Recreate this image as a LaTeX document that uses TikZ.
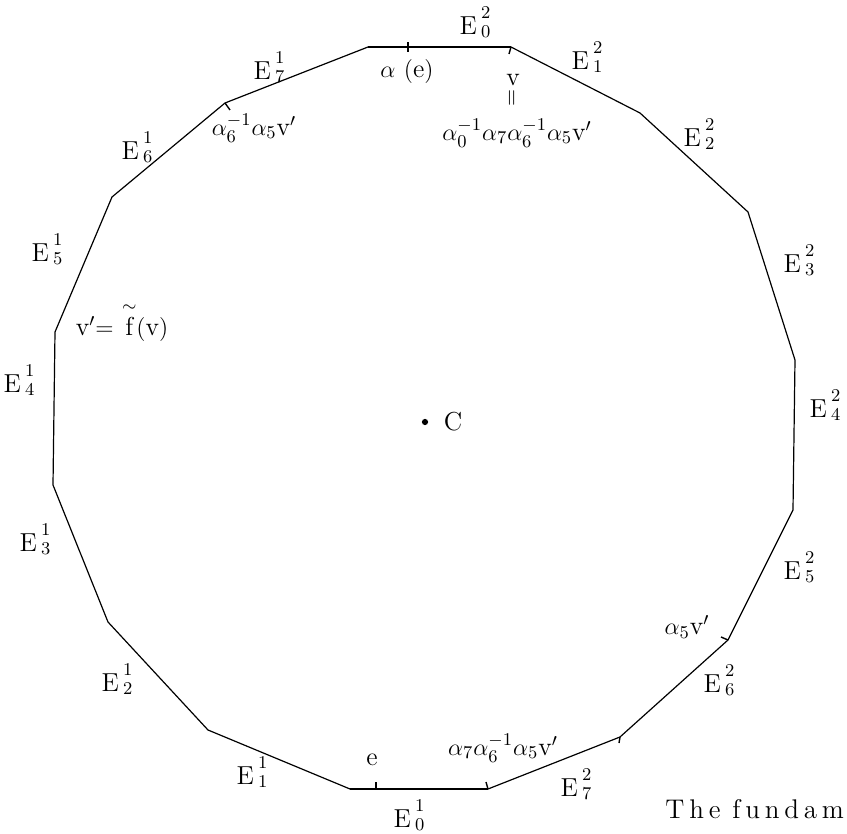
\documentclass[tikz,border=0pt]{standalone}
\usepackage{fontspec}
\usepackage{amsmath}
\newcommand{\Edge}[2]{\mbox{E\hspace{2pt}\raisebox{-1.5pt}{\makebox[0pt][l]{\raisebox{9.5pt}{\fontsize{9}{9}\selectfont #2}}\fontsize{9}{9}\selectfont #1}\hspace{5pt}}}
\begin{document}
\begin{tikzpicture}[x=0.5pt,y=-0.5pt,
  every node/.style={font=\fontsize{13}{15}\selectfont,inner sep=1pt},
  side/.style={line width=0.6pt},
  notch/.style={line width=0.7pt},
  dot/.style={circle,fill,inner sep=1.1pt}]
\useasboundingbox (0,0) rectangle (847,834);
\foreach \x/\y [count=\i from 0] in {368/47,511/47,640/113,748/212,795/360,793/510,
  728/640,620/737,488/789,350/789,208/730,108/622,53/485,55/332,112/197,225/103}
  \coordinate (p\i) at (\x,\y);
\draw[side] (p0) \foreach \i in {1,...,15} {-- (p\i)} -- cycle;
\draw[line width=0.9pt] (p0) -- (p1);
\draw[line width=0.9pt] (p8) -- (p9);
\coordinate (ae) at (408,47);
\coordinate (ee) at (376,789);
\draw[notch] (ae) -- ++(0,-5) (ae) -- ++(0,5);
\draw[notch] (ee) -- ++(0,-7);
\draw[notch] (p1) -- ++(-2,7);
\draw[notch] (p15) -- ++(5,7);
\draw[notch] (p6) -- ++(-7,-3);
\draw[notch] (p7) -- ++(-1,6);
\draw[notch] (p8) -- ++(-2,-7);
\node[dot] (cdot) at (425,422) {};
\node (c) at (453,422) {C};
% labels on the second copy
\node (e02) at (480,22) {\Edge{0}{2}};
\node (e12) at (592,57) {\Edge{1}{2}};
\node (e22) at (704,134) {\Edge{2}{2}};
\node (e32) at (804,260) {\Edge{3}{2}};
\node (e42) at (830,405) {\Edge{4}{2}};
\node (e52) at (804,567) {\Edge{5}{2}};
\node (e62) at (724,680) {\Edge{6}{2}};
\node (e72) at (581,784) {\Edge{7}{2}};
% labels on the first copy
\node (e01) at (414,815) {\Edge{0}{1}};
\node (e11) at (257,772) {\Edge{1}{1}};
\node (e21) at (122,679) {\Edge{2}{1}};
\node (e31) at (40,539) {\Edge{3}{1}};
\node (e41) at (24,380) {\Edge{4}{1}};
\node (e51) at (52,249) {\Edge{5}{1}};
\node (e61) at (142,147) {\Edge{6}{1}};
\node (e71) at (274,67) {\Edge{7}{1}};
% points
\node (ale) at (407,72) {$\alpha\ (\mathrm{e})$};
\node (v) at (513,80) {$\mathrm{v}$};
\node[rotate=90,font=\fontsize{11}{12}\selectfont] (veq) at (513,98) {$=$};
\node (vimg) at (517,133) {$\alpha_0^{-1}\alpha_7\alpha_6^{-1}\alpha_5\mathrm{v}'$};
\node (a6) at (254,128) {$\alpha_6^{-1}\alpha_5\mathrm{v}'$};
\node (vp) at (122,322) {$\mathrm{v}'{=}\ \overset{\sim}{\mathrm{f}}(\mathrm{v})$};
\node (a5) at (687,627) {$\alpha_5\mathrm{v}'$};
\node (a7) at (503,748) {$\alpha_7\alpha_6^{-1}\alpha_5\mathrm{v}'$};
\node (e) at (372,760) {$\mathrm{e}$};
\node[anchor=base west,font=\fontsize{13.5}{16}\selectfont] (cap) at (663,818)
  {T\kern2.4pt h\kern2.4pt e\hspace{6pt}f\kern2.4pt u\kern2.4pt n\kern2.4pt d\kern2.4pt a\kern2.4pt m};
\end{tikzpicture}
\end{document}
